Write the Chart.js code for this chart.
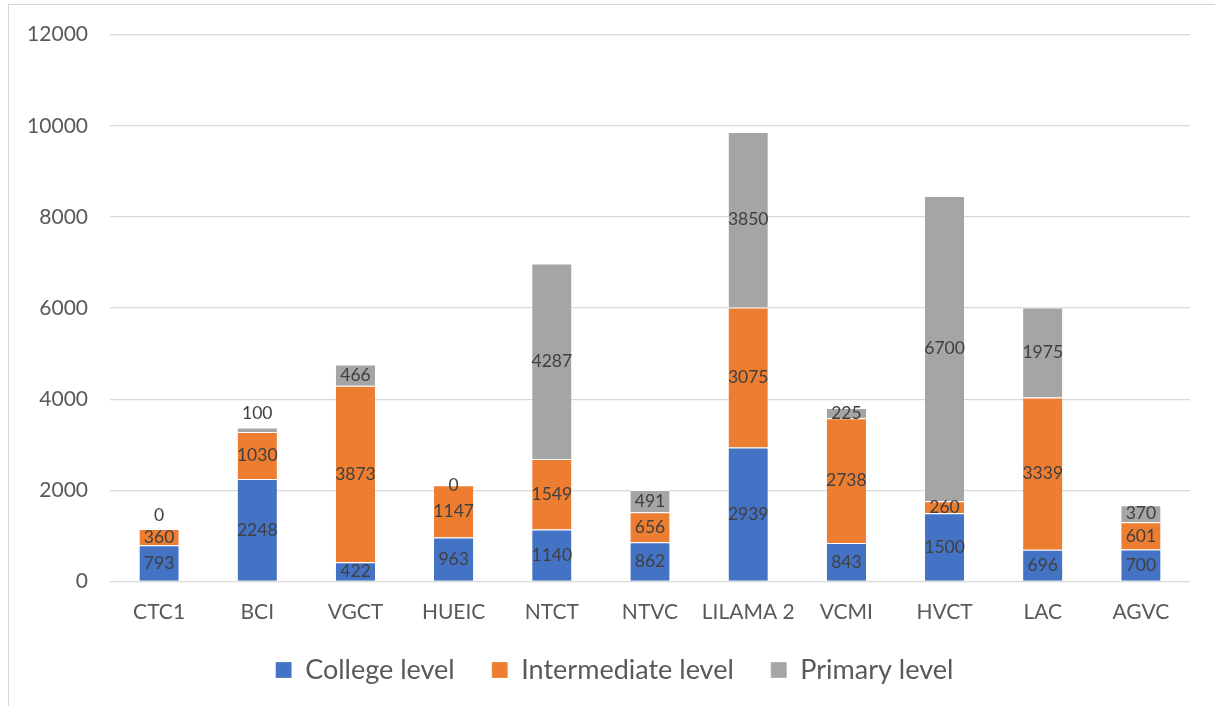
<!DOCTYPE html>
<html>
<head>
<meta charset="utf-8">
<script src="https://cdn.jsdelivr.net/npm/chart.js@4.4.1/dist/chart.umd.min.js"></script>
<style>
  html, body { margin: 0; padding: 0; background: #fff; overflow: hidden; }
  #wrap { position: absolute; left: 0; top: 0; width: 1215px; height: 706px; }
  #frame { position: absolute; left: 8px; top: 4px; width: 1300px; height: 800px;
           border: 1px solid #d6d6d6; pointer-events: none; }
</style>
</head>
<body>
<div id="wrap"><canvas id="chartC"></canvas></div>
<div id="frame"></div>
<script>
const categories = ['CTC1', 'BCI', 'VGCT', 'HUEIC', 'NTCT', 'NTVC', 'LILAMA 2', 'VCMI', 'HVCT', 'LAC', 'AGVC'];
const collegeLevel = [793, 2248, 422, 963, 1140, 862, 2939, 843, 1500, 696, 700];
const intermediateLevel = [360, 1030, 3873, 1147, 1549, 656, 3075, 2738, 260, 3339, 601];
const primaryLevel = [0, 100, 466, 0, 4287, 491, 3850, 225, 6700, 1975, 370];

// labels that sit above the bar instead of in the middle of their segment
const labelLift = { 'Primary level': { 'CTC1': 14, 'BCI': 14 } };

const barLabels = {
    id: 'barLabels',
    afterDatasetsDraw(chart){
        const ctx = chart.ctx;
        ctx.save();
        ctx.font = '17.5px Lato';
        ctx.fillStyle = '#404040';
        ctx.textAlign = 'center';
        ctx.textBaseline = 'middle';
        chart.data.datasets.forEach((ds, i) => {
            chart.getDatasetMeta(i).data.forEach((bar, j) => {
                let y = (bar.y + bar.base) / 2;
                const lift = (labelLift[ds.label] || {})[categories[j]];
                if(lift){
                    y = Math.min(bar.y, bar.base) - lift;
                }
                ctx.fillText(String(ds.data[j]), bar.x, y);
            });
        });
        ctx.restore();
    }
};

// nudge the legend a little to the right, like the original
const legendNudge = {
    id: 'legendNudge',
    afterLayout(chart){
        if(chart.legend){
            chart.legend.left += 7;
            chart.legend.right += 7;
        }
    }
};

const mkSet = (label, data, color) => ({
    label: label,
    data: data,
    backgroundColor: color,
    borderColor: '#ffffff',
    borderWidth: {top: 1, bottom: 0, left: 0, right: 0},
    barPercentage: 0.4,
    categoryPercentage: 1.0
});

new Chart(document.getElementById('chartC'), {
    type: 'bar',
    data: {
        labels: categories,
        datasets: [
            mkSet('College level', collegeLevel, '#4472C4'),
            mkSet('Intermediate level', intermediateLevel, '#ED7D31'),
            mkSet('Primary level', primaryLevel, '#A5A5A5')
        ]
    },
    options: {
        responsive: true,
        maintainAspectRatio: false,
        animation: false,
        layout: { padding: {top: 22, right: 25, bottom: 12.5, left: 25} },
        scales: {
            x: {
                stacked: true,
                afterFit(scale){ scale.height = 38; },
                grid: { display: false },
                border: { display: false },
                ticks: { color: '#595959', font: {family: 'Lato', size: 21}, padding: 10,
                         maxRotation: 0, minRotation: 0, autoSkip: false }
            },
            y: {
                stacked: true,
                min: 0,
                max: 12000,
                afterFit(scale){ scale.width = 85; },
                grid: { color: '#d9d9d9', lineWidth: 1.3, drawTicks: false },
                border: { display: false },
                ticks: { stepSize: 2000, color: '#595959', font: {family: 'Lato', size: 21}, padding: 22,
                         callback: (v) => String(v) }
            }
        },
        plugins: {
            legend: {
                position: 'bottom',
                labels: {
                    boxWidth: 16,
                    boxHeight: 16,
                    padding: 37,
                    color: '#595959',
                    font: {family: 'Lato', size: 27}
                }
            },
            tooltip: { enabled: false }
        }
    },
    plugins: [barLabels, legendNudge]
});
</script>
</body>
</html>
